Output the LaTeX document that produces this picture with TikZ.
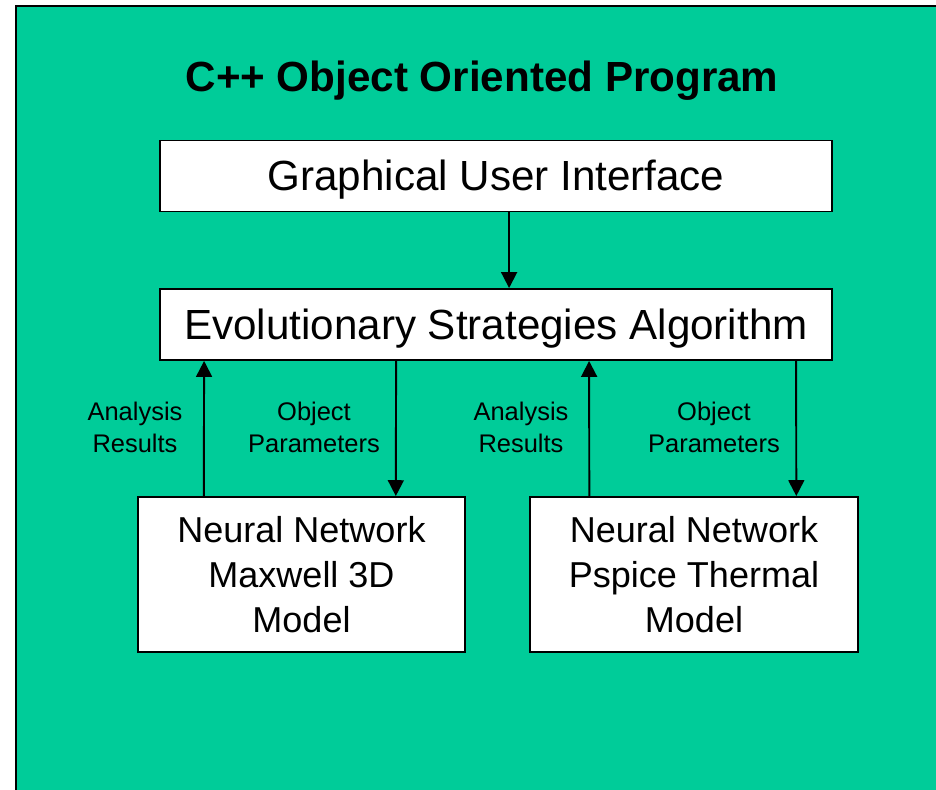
\documentclass[tikz,border=0pt]{standalone}
\usepackage{fontspec}
\setmainfont{Liberation Sans}
\usetikzlibrary{arrows.meta,calc,positioning}
\definecolor{slidegreen}{HTML}{00CC99}
\tikzstyle{block} = [rectangle,draw=black,fill=white,line width=1.1pt,align=center,inner sep=0pt]
\tikzstyle{wideblock} = [block,minimum width=13.44cm,minimum height=1.42cm,text depth=0.08em,font=\fontsize{24}{29}\selectfont]
\tikzstyle{nnblock} = [block,minimum width=6.55cm,minimum height=3.1cm,font=\fontsize{20.5}{25.5}\selectfont]
\tikzstyle{flowlbl} = [align=center,font=\fontsize{14.5}{18.1}\selectfont]

\begin{document}
\begin{tikzpicture}[x=0.02cm,y=-0.02cm,->,>={Triangle[length=9pt,width=9pt]},line width=1.1pt]

\useasboundingbox (0,0) rectangle (936,790);
\fill[slidegreen] (16,6) rectangle (936,790);
\draw[-] (16,790) -- (16,6) -- (936,6);

\node (title) [anchor=base,font=\fontsize{24}{29}\selectfont\bfseries] at (482,92) {C++ Object Oriented Program};

\node (gui) [wideblock] at (496,176) {Graphical User Interface};
\node (esa) [wideblock] at (496,324.5) {Evolutionary Strategies Algorithm};
\node (nn1) [nnblock] at (301.5,574.5) {Neural Network\\Maxwell 3D\\Model};
\node (nn2) [nnblock] at (694,574.5) {Neural Network\\Pspice Thermal\\Model};

\node (res1) [flowlbl] at (135,427) {Analysis\\Results};
\node (par1) [flowlbl] at (314,427) {Object\\Parameters};
\node (res2) [flowlbl] at (521,427) {Analysis\\Results};
\node (par2) [flowlbl] at (714,427) {Object\\Parameters};

\draw ($(gui.south west)+(350,0)$) -- ($(esa.north west)+(350,0)$);
\draw ($(nn1.north west)+(67,0)$) -- ($(esa.south west)+(45,0)$);
\draw ($(esa.south west)+(237,0)$) -- ($(nn1.north west)+(259,0)$);
\draw ($(nn2.north west)+(60,0)$) -- ($(esa.south west)+(430,0)$);
\draw ($(esa.south west)+(637,0)$) -- ($(nn2.north west)+(267,0)$);

\end{tikzpicture}
\end{document}
